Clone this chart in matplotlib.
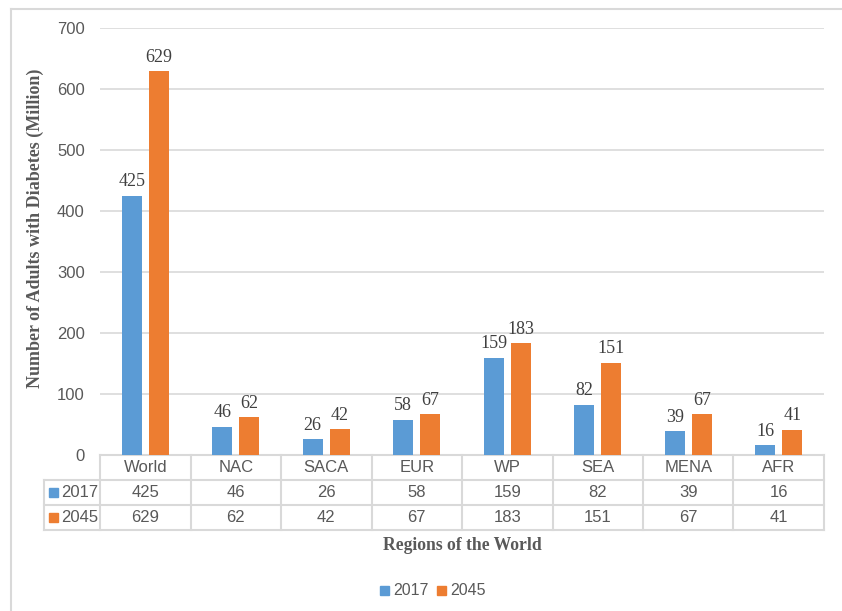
import numpy as np
import matplotlib
matplotlib.use("Agg")
import matplotlib.pyplot as plt
from matplotlib.patches import Rectangle
from matplotlib.lines import Line2D

regions = ["World", "NAC", "SACA", "EUR", "WP", "SEA", "MENA", "AFR"]
years = ["2017", "2045"]
v2017 = [425, 46, 26, 58, 159, 82, 39, 16]
v2045 = [629, 62, 42, 67, 183, 151, 67, 41]
yticks = [0, 100, 200, 300, 400, 500, 600, 700]

blue = "#5B9BD5"
orange = "#ED7D31"
grid = "#D9D9D9"
txt = "#595959"
sans = "Liberation Sans"
serif = "Liberation Serif"
fs = 12

W, H = 842, 611
fig = plt.figure(figsize=(W / 100, H / 100), dpi=100)
ax = fig.add_axes([100 / W, 1 - 455 / H, 724 / W, 427 / H])

x = np.arange(len(regions))
bw = 0.22
off = 0.15
ax.bar(x - off, v2017, bw, color=blue, zorder=3)
ax.bar(x + off, v2045, bw, color=orange, zorder=3)
for xi, a, b in zip(x, v2017, v2045):
    ax.annotate(str(a), (xi - off, a), xytext=(0, 4), textcoords="offset points",
                ha="center", va="bottom", fontsize=13, family=serif, color="#404040")
    ax.annotate(str(b), (xi + off, b), xytext=(0, 4), textcoords="offset points",
                ha="center", va="bottom", fontsize=13, family=serif, color="#404040")

ax.set_xlim(-0.5, len(regions) - 0.5)
ax.set_ylim(0, 700)
ax.set_yticks(yticks)
ax.set_yticklabels([str(t) for t in yticks], family=sans, fontsize=fs, color=txt)
ax.tick_params(axis="y", length=0, pad=11)
ax.set_xticks([])
ax.yaxis.grid(True, color=grid, linewidth=1.2, zorder=0)
for s in ax.spines.values():
    s.set_visible(False)

fig.text(35 / W, 1 - 228 / H, "Number of Adults with Diabetes (Million)", rotation=90,
         ha="center", va="center", family=serif, fontweight="bold", fontsize=13,
         color=txt)

# data table under the axis
rh = 25 / 427
tr = ax.get_xaxis_transform()
legx = -56 / 724 * len(regions) - 0.5
lw = 1.5
for k in range(4):
    yy = -k * rh
    x0 = -0.5 if k == 0 else legx
    ax.add_line(Line2D([x0, len(regions) - 0.5], [yy, yy], transform=tr, color=grid,
                       lw=lw, clip_on=False, zorder=1))
for i in range(len(regions) + 1):
    ax.add_line(Line2D([i - 0.5, i - 0.5], [0, -3 * rh], transform=tr, color=grid,
                       lw=lw, clip_on=False))
ax.add_line(Line2D([legx, legx], [-rh, -3 * rh], transform=tr, color=grid,
                   lw=lw, clip_on=False))

for i, r in enumerate(regions):
    ax.text(i, -0.5 * rh, r, transform=tr, ha="center", va="center",
            family=sans, fontsize=fs, color=txt)
    ax.text(i, -1.5 * rh, str(v2017[i]), transform=tr, ha="center", va="center",
            family=sans, fontsize=fs, color=txt)
    ax.text(i, -2.5 * rh, str(v2045[i]), transform=tr, ha="center", va="center",
            family=sans, fontsize=fs, color=txt)

for j, (yr, c) in enumerate(zip(years, [blue, orange])):
    yc = 1 - (480 + 25 * j + 12.5) / H
    fig.patches.append(Rectangle((49 / W, yc - 4.5 / H), 9 / W, 9 / H, color=c,
                                 transform=fig.transFigure))
    fig.text(61 / W, yc, yr, ha="left", va="center", family=sans, fontsize=fs, color=txt)

fig.text(462 / W, 1 - 545 / H, "Regions of the World", ha="center", va="center",
         family=serif, fontweight="bold", fontsize=12.7, color=txt)

# legend
for j, (yr, c) in enumerate(zip(years, [blue, orange])):
    x0 = 380 + 57 * j
    fig.patches.append(Rectangle((x0 / W, 1 - 595 / H), 9 / W, 9 / H, color=c,
                                 transform=fig.transFigure))
    fig.text((x0 + 13) / W, 1 - 590.5 / H, yr, ha="left", va="center", family=sans,
             fontsize=11.5, color=txt)

# chart border
fig.add_artist(Line2D([11 / W, 1], [1 - 9 / H, 1 - 9 / H], color=grid, lw=1.5))
fig.add_artist(Line2D([11 / W, 11 / W], [0, 1 - 9 / H], color=grid, lw=1.5))

fig.savefig("out.png", dpi=100, facecolor="white")
